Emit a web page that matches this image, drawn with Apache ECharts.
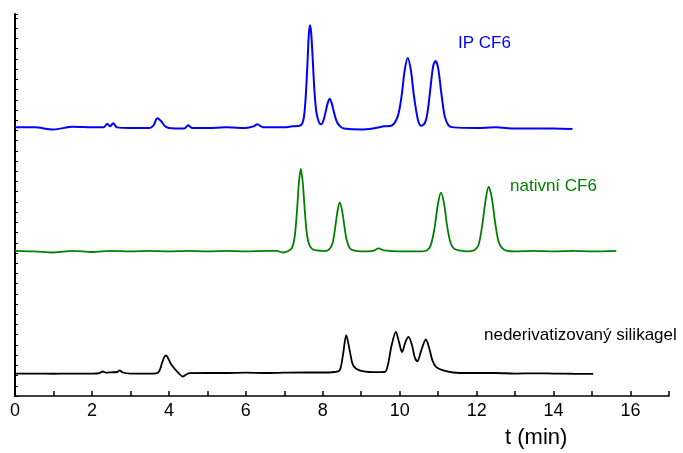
<!DOCTYPE html>
<html>
<head>
<meta charset="utf-8">
<script src="https://cdn.jsdelivr.net/npm/echarts@6/dist/echarts.min.js"></script>
<style>
html, body { margin: 0; padding: 0; background: #fff; }
#chart { width: 683px; height: 453px; }
</style>
</head>
<body>
<div id="chart"></div>
<script>
// [t (min), signal] points
const ipCf6 = [
    [0, 26.3], [0.5, 26.3], [1.0, 26.1], [1.5, 26.35], [2.0, 26.3], [2.3, 26.3],
    [2.4, 26.65], [2.47, 26.4], [2.55, 26.7], [2.65, 26.3], [3.0, 26.25], [3.5, 26.25],
    [3.6, 26.5], [3.7, 27.2], [3.8, 26.9], [3.9, 26.4], [4.0, 26.25], [4.4, 26.2],
    [4.5, 26.5], [4.6, 26.25], [5.0, 26.25], [5.5, 26.3], [6.0, 26.25], [6.2, 26.4],
    [6.3, 26.6], [6.45, 26.3], [7.0, 26.3], [7.2, 26.4], [7.42, 26.5], [7.5, 27.1],
    [7.55, 28.9], [7.6, 32.4], [7.64, 35.5], [7.67, 36.3], [7.7, 35.5], [7.74, 32.9],
    [7.78, 30.1], [7.83, 27.9], [7.9, 26.8], [7.96, 26.6], [8.02, 27.0], [8.08, 27.9],
    [8.13, 28.7], [8.18, 29.1], [8.23, 28.7], [8.29, 27.8], [8.36, 26.9], [8.45, 26.4],
    [8.55, 26.2], [9.0, 26.1], [9.3, 26.2], [9.6, 26.4], [9.8, 26.5], [9.95, 27.4],
    [10.05, 29.4], [10.13, 31.9], [10.21, 33.1], [10.29, 31.9], [10.37, 29.4], [10.47, 27.1],
    [10.56, 26.45], [10.65, 26.7], [10.72, 27.7], [10.8, 30.2], [10.87, 32.3], [10.93, 32.8],
    [11.0, 32.1], [11.08, 29.7], [11.17, 27.4], [11.27, 26.5], [11.4, 26.3], [12.0, 26.25],
    [12.5, 26.3], [13.0, 26.2], [14.0, 26.2], [14.49, 26.15]
];
const nativniCf6 = [
    [0, 14.2], [0.5, 14.15], [1.0, 14.05], [1.5, 14.2], [2.0, 14.1], [2.5, 14.2],
    [3.0, 14.15], [3.5, 14.2], [4.0, 14.15], [4.5, 14.2], [5.0, 14.15], [5.5, 14.2],
    [6.0, 14.15], [6.5, 14.2], [6.8, 14.2], [6.97, 14.05], [7.1, 14.2], [7.2, 14.5],
    [7.27, 15.6], [7.33, 18.1], [7.38, 20.9], [7.43, 22.25], [7.48, 20.9], [7.53, 18.3],
    [7.58, 16.1], [7.64, 14.9], [7.72, 14.4], [7.85, 14.25], [8.0, 14.2], [8.15, 14.3],
    [8.25, 14.9], [8.32, 16.4], [8.38, 18.0], [8.44, 18.95], [8.5, 18.2], [8.56, 16.7],
    [8.62, 15.3], [8.7, 14.5], [8.8, 14.25], [9.0, 14.15], [9.3, 14.2], [9.45, 14.45],
    [9.6, 14.25], [10.0, 14.15], [10.5, 14.15], [10.7, 14.25], [10.8, 14.7], [10.9, 16.3],
    [10.99, 18.7], [11.07, 19.9], [11.15, 18.9], [11.23, 16.7], [11.32, 15.0], [11.42, 14.4],
    [11.55, 14.25], [11.75, 14.15], [11.95, 14.3], [12.05, 14.8], [12.14, 16.6], [12.23, 19.1],
    [12.31, 20.5], [12.39, 19.5], [12.48, 17.0], [12.57, 15.1], [12.67, 14.45], [12.8, 14.2],
    [13.0, 14.15], [13.5, 14.2], [14.0, 14.15], [14.5, 14.2], [15.0, 14.15], [15.63, 14.2]
];
const silikagel = [
    [0, 2.2], [0.5, 2.2], [1.0, 2.18], [1.5, 2.2], [2.0, 2.2], [2.2, 2.25],
    [2.28, 2.4], [2.36, 2.28], [2.5, 2.32], [2.65, 2.35], [2.72, 2.5], [2.8, 2.3],
    [3.0, 2.2], [3.5, 2.2], [3.7, 2.25], [3.76, 2.5], [3.82, 3.2], [3.88, 3.8],
    [3.93, 3.98], [3.98, 3.7], [4.05, 3.15], [4.15, 2.67], [4.25, 2.25], [4.36, 1.91],
    [4.45, 2.1], [4.54, 2.23], [5.0, 2.25], [5.5, 2.25], [6.0, 2.28], [6.5, 2.25],
    [7.0, 2.28], [7.5, 2.3], [8.0, 2.3], [8.3, 2.35], [8.44, 2.5], [8.53, 4.15],
    [8.61, 5.95], [8.7, 4.47], [8.79, 3.0], [8.96, 2.5], [9.3, 2.33], [9.61, 2.35],
    [9.7, 3.16], [9.78, 4.8], [9.9, 6.28], [9.98, 5.3], [10.06, 4.3], [10.15, 5.3],
    [10.23, 5.79], [10.32, 4.97], [10.39, 3.8], [10.46, 3.39], [10.56, 4.47], [10.68, 5.53],
    [10.76, 4.8], [10.85, 3.49], [10.95, 2.83], [11.13, 2.5], [11.39, 2.3], [11.82, 2.25],
    [12.5, 2.25], [13.0, 2.2], [13.5, 2.22], [14.0, 2.2], [14.5, 2.18], [15.03, 2.17]
];

const chart = echarts.init(document.getElementById('chart'));

const labelFont = 'Arial, "Liberation Sans", sans-serif';

chart.setOption({
    animation: false,
    grid: {
        left: 15,
        right: 14,
        top: 14,
        bottom: 57
    },
    xAxis: {
        type: 'value',
        min: 0,
        max: 17,
        interval: 2,
        axisLine: { lineStyle: { color: '#000', width: 1.5 } },
        axisTick: { inside: true, length: 5, lineStyle: { color: '#000', width: 1.5 } },
        minorTick: { show: true, splitNumber: 2, length: 5, lineStyle: { color: '#000', width: 1.5 } },
        axisLabel: {
            color: '#000',
            fontSize: 18,
            fontFamily: labelFont,
            margin: 6,
            showMaxLabel: false
        },
        splitLine: { show: false }
    },
    yAxis: {
        type: 'value',
        min: 0,
        max: 37.4,
        interval: 1,
        axisLine: { show: true, lineStyle: { color: '#000', width: 2 } },
        axisTick: { show: true, inside: true, length: 3, lineStyle: { color: '#000', width: 1 } },
        axisLabel: { show: false },
        splitLine: { show: false }
    },
    series: [
        {
            type: 'line',
            data: ipCf6,
            symbol: 'none',
            smooth: 0.3,
            lineStyle: { color: '#0000ff', width: 2 }
        },
        {
            type: 'line',
            data: nativniCf6,
            symbol: 'none',
            smooth: 0.3,
            lineStyle: { color: '#008000', width: 1.8 }
        },
        {
            type: 'line',
            data: silikagel,
            symbol: 'none',
            smooth: 0.3,
            lineStyle: { color: '#000000', width: 1.8 }
        }
    ],
    graphic: [
        {
            type: 'text', left: 458, top: 35,
            style: { text: 'IP CF6', fill: '#0000ff', font: '17px ' + labelFont }
        },
        {
            type: 'text', left: 510, top: 178,
            style: { text: 'nativní CF6', fill: '#008000', font: '17px ' + labelFont }
        },
        {
            type: 'text', left: 484, top: 327,
            style: { text: 'nederivatizovaný silikagel', fill: '#000', font: '17px ' + labelFont }
        },
        {
            type: 'text', left: 505, top: 427,
            style: { text: 't (min)', fill: '#000', font: '22px ' + labelFont }
        }
    ]
});
</script>
</body>
</html>
